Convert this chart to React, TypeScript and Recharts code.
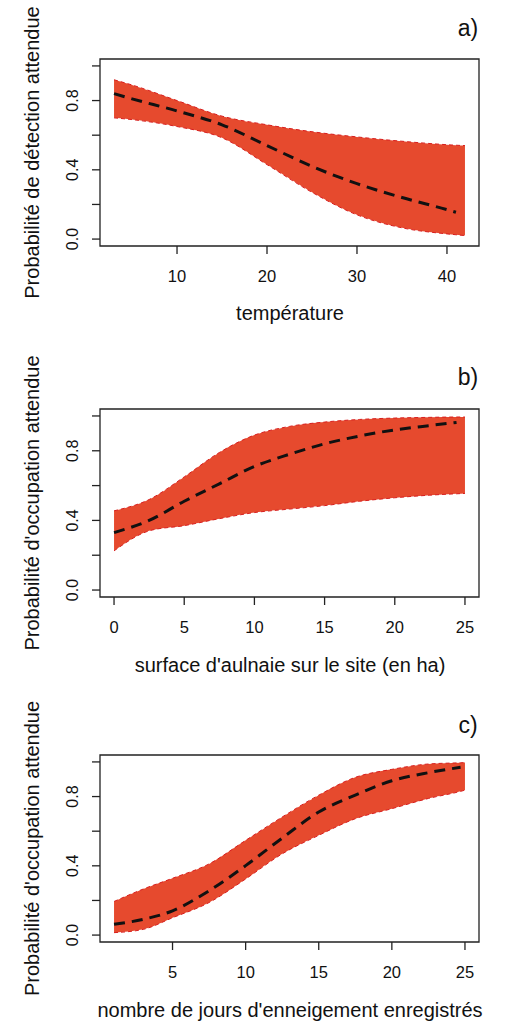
import { ComposedChart, Area, Line, XAxis, YAxis, ReferenceArea } from 'recharts';

// a) température
const tempX = [3, 5, 10, 15, 20, 25, 30, 35, 40, 41, 42];
const tempUpper = [0.92, 0.89, 0.8, 0.71, 0.66, 0.62, 0.59, 0.565, 0.545, 0.542, 0.54];
const tempMean = [0.84, 0.81, 0.74, 0.66, 0.54, 0.42, 0.32, 0.24, 0.17, 0.155, null];
const tempLower = [0.7, 0.69, 0.65, 0.585, 0.43, 0.27, 0.14, 0.065, 0.03, 0.025, 0.02];
const tempTicks = [10, 20, 30, 40];

// b) surface d'aulnaie
const aulnX = [0, 2.5, 5, 7.5, 10, 12.5, 15, 17.5, 20, 22.5, 24.4, 25];
const aulnUpper = [0.455, 0.52, 0.65, 0.79, 0.89, 0.94, 0.965, 0.98, 0.988, 0.992, 0.994, 0.994];
const aulnMean = [0.33, 0.4, 0.51, 0.61, 0.71, 0.78, 0.84, 0.885, 0.92, 0.945, 0.963, null];
const aulnLower = [0.225, 0.34, 0.37, 0.41, 0.445, 0.465, 0.485, 0.51, 0.53, 0.545, 0.553, 0.555];
const aulnTicks = [0, 5, 10, 15, 20, 25];

// c) jours d'enneigement
const neigeX = [1, 3, 5, 7.5, 10, 12.5, 15, 17.5, 20, 22.5, 24.7, 25];
const neigeUpper = [0.194, 0.266, 0.328, 0.411, 0.547, 0.682, 0.808, 0.911, 0.957, 0.988, 0.995, 0.996];
const neigeMean = [0.062, 0.091, 0.14, 0.256, 0.401, 0.56, 0.711, 0.808, 0.891, 0.938, 0.969, null];
const neigeLower = [0.014, 0.033, 0.1, 0.188, 0.324, 0.469, 0.576, 0.672, 0.73, 0.789, 0.83, 0.837];
const neigeTicks = [5, 10, 15, 20, 25];

const probTicks = [0, 0.2, 0.4, 0.6, 0.8, 1.0];
const probLabels = [0, 0.4, 0.8];

const FONT = '"Liberation Sans", Arial, Helvetica, sans-serif';
const BAND = '#e64a2e';
const EDGE = '#d81e1e';

const buildRows = (xs: number[], up: number[], mean: (number | null)[], low: number[]) =>
    xs.map((x, i) => ({ x, band: [low[i], up[i]], upper: up[i], lower: low[i], mean: mean[i] }));

interface PanelProps {
    top: number;
    height: number;
    plotTop: number;
    plotBottom: number;
    rows: ReturnType<typeof buildRows>;
    xDomain: [number, number];
    xTicks: number[];
    tag: string;
    yTitle: string;
    xTitle: string;
    xTitleY: number;
    tagY: number;
}

const Panel = ({ top, height, plotTop, plotBottom, rows, xDomain, xTicks, tag, yTitle, xTitle, xTitleY, tagY }: PanelProps) => {
    const midY = (plotTop + plotBottom) / 2;
    return (
        <div style={{ position: 'absolute', left: 0, top, width: 509, height }}>
            <ComposedChart width={509} height={height} data={rows} margin={{ top: plotTop, right: 30, left: 0, bottom: 0 }}>
                <XAxis
                    dataKey='x'
                    type='number'
                    domain={xDomain}
                    allowDataOverflow
                    ticks={xTicks}
                    height={height - plotBottom}
                    axisLine={false}
                    tickSize={8}
                    tickLine={{ stroke: '#222', strokeWidth: 1.3 }}
                    tick={(p: any) => (
                        <text x={p.x} y={plotBottom + 30} textAnchor='middle' dominantBaseline='central' fontSize={16.5} fontFamily={FONT} fill='#111'>
                            {p.payload.value}
                        </text>
                    )}
                    label={{
                        content: () => (
                            <text x={290} y={xTitleY} textAnchor='middle' dominantBaseline='central' fontSize={20} fontFamily={FONT} fill='#111'>
                                {xTitle}
                            </text>
                        ),
                    }}
                />
                <YAxis
                    type='number'
                    domain={[-0.04, 1.04]}
                    allowDataOverflow
                    ticks={probTicks}
                    width={100}
                    axisLine={false}
                    tickSize={8}
                    tickLine={{ stroke: '#222', strokeWidth: 1.3 }}
                    tick={(p: any) =>
                        probLabels.includes(p.payload.value) ? (
                            <text
                                x={73}
                                y={p.y}
                                transform={`rotate(-90, 73, ${p.y})`}
                                textAnchor='middle'
                                dominantBaseline='central'
                                fontSize={16}
                                fontFamily={FONT}
                                fill='#111'
                            >
                                {p.payload.value.toFixed(1)}
                            </text>
                        ) : (
                            <g />
                        )
                    }
                    label={{
                        content: () => (
                            <text
                                x={32}
                                y={midY}
                                transform={`rotate(-90, 32, ${midY})`}
                                textAnchor='middle'
                                dominantBaseline='central'
                                fontSize={20}
                                fontFamily={FONT}
                                fill='#111'
                            >
                                {yTitle}
                            </text>
                        ),
                    }}
                />
                <Area type='monotone' dataKey='band' fill={BAND} fillOpacity={1} stroke='none' isAnimationActive={false} />
                <Line type='monotone' dataKey='upper' stroke={EDGE} strokeWidth={1} strokeDasharray='4 3' dot={false} isAnimationActive={false} />
                <Line type='monotone' dataKey='lower' stroke={EDGE} strokeWidth={1} strokeDasharray='4 3' dot={false} isAnimationActive={false} />
                <Line type='monotone' dataKey='mean' stroke='#111' strokeWidth={3} strokeDasharray='11 7' dot={false} isAnimationActive={false} />
                <ReferenceArea
                    x1={xDomain[0]}
                    x2={xDomain[1]}
                    y1={-0.04}
                    y2={1.04}
                    fill='none'
                    stroke='#222'
                    strokeWidth={1.3}
                    ifOverflow='visible'
                    label={{
                        content: () => (
                            <text x={468} y={tagY} textAnchor='middle' dominantBaseline='central' fontSize={23} fontFamily={FONT} fill='#111'>
                                {tag}
                            </text>
                        ),
                    }}
                />
            </ComposedChart>
        </div>
    );
};

export default function App() {
    return (
        <div style={{ position: 'absolute', left: 0, top: 0, width: 509, height: 1021, background: '#fff', overflow: 'hidden' }}>
            <Panel
                top={0}
                height={345}
                plotTop={59}
                plotBottom={246}
                rows={buildRows(tempX, tempUpper, tempMean, tempLower)}
                xDomain={[1.44, 43.56]}
                xTicks={tempTicks}
                tag='a)'
                tagY={28}
                yTitle='Probabilité de détection attendue'
                xTitle='température'
                xTitleY={313}
            />
            <Panel
                top={345}
                height={345}
                plotTop={64}
                plotBottom={252}
                rows={buildRows(aulnX, aulnUpper, aulnMean, aulnLower)}
                xDomain={[-1, 26]}
                xTicks={aulnTicks}
                tag='b)'
                tagY={32}
                yTitle="Probabilité d'occupation attendue"
                xTitle="surface d'aulnaie sur le site (en ha)"
                xTitleY={320}
            />
            <Panel
                top={690}
                height={331}
                plotTop={65}
                plotBottom={252}
                rows={buildRows(neigeX, neigeUpper, neigeMean, neigeLower)}
                xDomain={[0.04, 25.96]}
                xTicks={neigeTicks}
                tag='c)'
                tagY={35}
                yTitle="Probabilité d'occupation attendue"
                xTitle="nombre de jours d'enneigement enregistrés"
                xTitleY={320}
            />
        </div>
    );
}
